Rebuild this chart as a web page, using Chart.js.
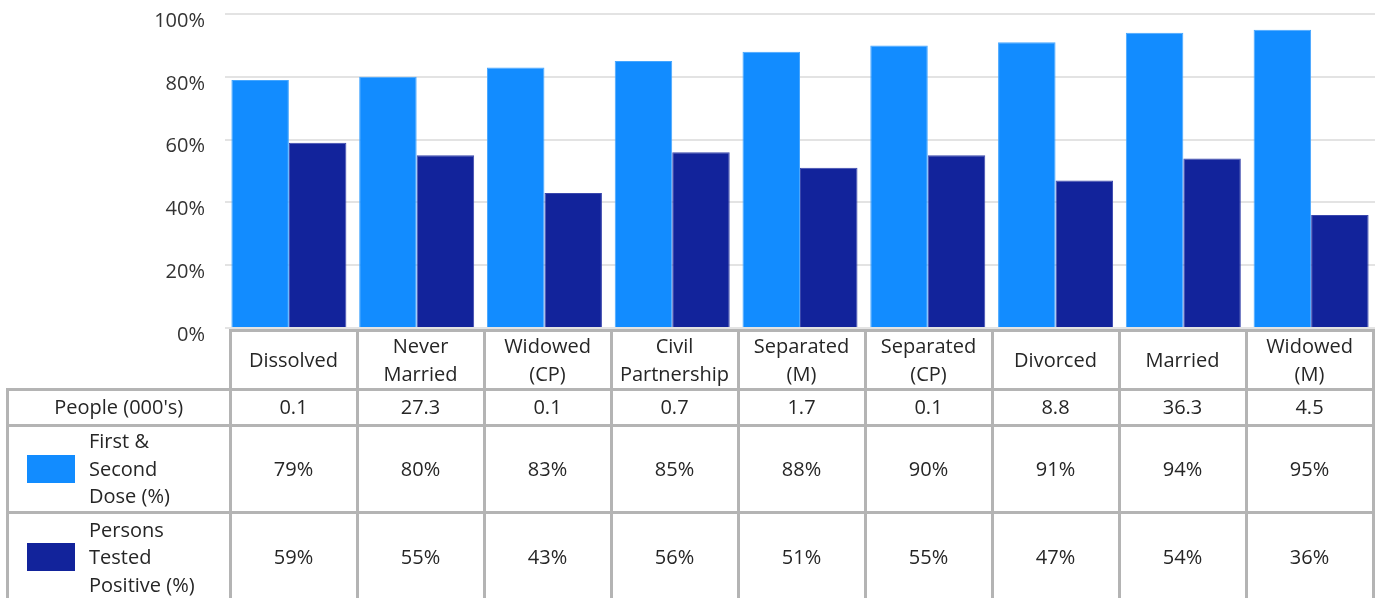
<!DOCTYPE html>
<html>
<head>
<meta charset="utf-8">
<script src="https://cdn.jsdelivr.net/npm/chart.js@4/dist/chart.umd.min.js"></script>
<style>
  html, body { margin: 0; padding: 0; background: #ffffff; }
  #wrap { position: relative; width: 1378px; height: 598px; overflow: hidden; font-family: "Open Sans", sans-serif; color: #262626; }
  #chartBox { position: absolute; left: 0; top: -18px; width: 1378px; height: 378px; }
  .cell { position: absolute; box-sizing: border-box; border: 3px solid #b4b4b4; background: transparent;
          display: flex; align-items: center; justify-content: center; text-align: center;
          font-size: 20px; line-height: 27.5px; z-index: 2; }
  .legendCell { justify-content: flex-start; text-align: left; }
  .swatch { position: absolute; left: 18px; width: 48px; height: 28px; }
  .legendText { position: absolute; left: 80px; }
</style>
</head>
<body>
<div id="wrap">
  <div id="chartBox"><canvas id="c" width="1378" height="378"></canvas></div>
</div>
<script>
// ---- data ----
const categories = [
  ["Dissolved"], ["Never", "Married"], ["Widowed", "(CP)"], ["Civil", "Partnership"],
  ["Separated", "(M)"], ["Separated", "(CP)"], ["Divorced"], ["Married"], ["Widowed", "(M)"]
];
const peopleThousands = ["0.1", "27.3", "0.1", "0.7", "1.7", "0.1", "8.8", "36.3", "4.5"];
const firstSecondDose = [79, 80, 83, 85, 88, 90, 91, 94, 95];
const testedPositive = [59, 55, 43, 56, 51, 55, 47, 54, 36];
const yTicks = [0, 20, 40, 60, 80, 100];
const seriesNames = [["First &", "Second", "Dose (%)"], ["Persons", "Tested", "Positive (%)"]];
const rowHeader = "People (000's)";

const colorLight = "#128cff";
const colorDark = "#12239b";

// ---- chart ----
const ctx = document.getElementById("c").getContext("2d");
new Chart(ctx, {
  type: "bar",
  data: {
    labels: categories.map(c => c.join(" ")),
    datasets: [
      { label: seriesNames[0].join(" "), data: firstSecondDose, backgroundColor: colorLight,
        borderColor: "#45a6ff", borderWidth: 1, borderSkipped: "bottom",
        categoryPercentage: 0.9, barPercentage: 1.0 },
      { label: seriesNames[1].join(" "), data: testedPositive, backgroundColor: colorDark,
        borderColor: "#3a47ad", borderWidth: 1, borderSkipped: "bottom",
        categoryPercentage: 0.9, barPercentage: 1.0 }
    ]
  },
  options: {
    responsive: false,
    animation: false,
    layout: { padding: { top: 14, bottom: 31, left: 0, right: 3 } },
    plugins: { legend: { display: false }, tooltip: { enabled: false } },
    scales: {
      x: { display: false },
      y: {
        min: yTicks[0], max: yTicks[yTicks.length - 1],
        afterBuildTicks: (s) => { s.ticks = yTicks.map(v => ({ value: v })); },
        afterFit: (s) => { s.width = 225; },
        border: { display: false },
        grid: { color: "#e3e3e3", lineWidth: 2, drawTicks: false },
        ticks: {
          padding: 20, labelOffset: 7, color: "#333333",
          font: { family: "Open Sans", size: 20 },
          callback: (v) => v + "%"
        }
      }
    }
  }
});

// ---- data table (HTML text) ----
const wrap = document.getElementById("wrap");
const colX = [230, 357, 484, 611, 738, 865, 992, 1119, 1246, 1373];
const leftX = [7.5, 230];
const rowY = [330, 389, 425, 512, 602];

function addCell(x0, x1, y0, y1, html, cls) {
  const d = document.createElement("div");
  d.className = "cell" + (cls ? " " + cls : "");
  d.style.left = (x0 - 1.5) + "px";
  d.style.top = (y0 - 1.5) + "px";
  d.style.width = (x1 - x0 + 3) + "px";
  d.style.height = (y1 - y0 + 3) + "px";
  d.innerHTML = html;
  wrap.appendChild(d);
  return d;
}

// header row
categories.forEach((lines, i) => addCell(colX[i], colX[i + 1], rowY[0], rowY[1], lines.join("<br>")));
// people row
addCell(leftX[0], leftX[1], rowY[1], rowY[2], rowHeader);
peopleThousands.forEach((v, i) => addCell(colX[i], colX[i + 1], rowY[1], rowY[2], v));
// series rows
[firstSecondDose, testedPositive].forEach((arr, r) => {
  const y0 = rowY[2 + r], y1 = rowY[3 + r];
  const lc = addCell(leftX[0], leftX[1], y0, y1, "", "legendCell");
  const sw = document.createElement("div");
  sw.className = "swatch";
  sw.style.background = r === 0 ? colorLight : colorDark;
  sw.style.top = ((y1 - y0) / 2 - 14 - 1.5) + "px";
  lc.appendChild(sw);
  const tx = document.createElement("div");
  tx.className = "legendText";
  tx.innerHTML = seriesNames[r].join("<br>");
  tx.style.top = ((y1 - y0) / 2 - 41.25 - 1.5) + "px";
  lc.appendChild(tx);
  arr.forEach((v, i) => addCell(colX[i], colX[i + 1], y0, y1, v + "%"));
});
</script>
</body>
</html>
